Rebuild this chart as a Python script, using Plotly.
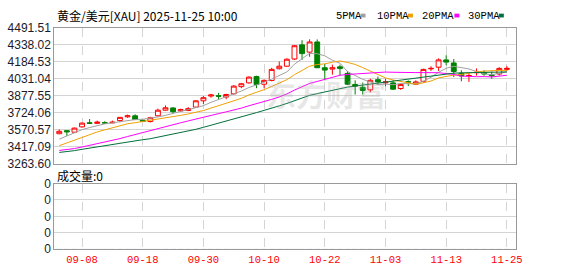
import plotly.graph_objects as go
import pandas as pd

# ---------------- data ----------------
dates = [d.strftime("%m-%d") for d in pd.bdate_range("2025-09-03", "2025-11-25")]
tick_labels = ["09-08", "09-18", "09-30", "10-10", "10-22", "11-03", "11-13", "11-25"]

opens = [3534, 3562, 3548, 3596, 3633, 3628, 3634, 3632, 3653, 3687,
         3696, 3656, 3645, 3696, 3747, 3767, 3741, 3744, 3775, 3832,
         3875, 3877, 3866, 3895, 3960, 3994, 4051, 3982, 4016, 4122,
         4145, 4210, 4338, 4272, 4364, 4131, 4119, 4139, 4080, 3980,
         3954, 3931, 4023, 3994, 3994, 3943, 4004, 3982, 4008, 4121,
         4136, 4202, 4174, 4080, 4058, 4086, 4088, 4068, 4074, 4116]
highs = [3573, 3565, 3590, 3636, 3667, 3653, 3647, 3653, 3684, 3707,
         3710, 3660, 3687, 3761, 3790, 3775, 3761, 3775, 3835, 3875,
         3895, 3903, 3895, 3974, 3994, 4054, 4059, 4025, 4131, 4187,
         4216, 4336, 4380, 4388, 4387, 4165, 4159, 4159, 4102, 4017,
         3997, 4031, 4051, 4031, 4017, 3988, 4017, 4017, 4122, 4145,
         4216, 4244, 4210, 4108, 4080, 4125, 4108, 4097, 4136, 4145]
lows = [3530, 3513, 3542, 3590, 3626, 3622, 3624, 3630, 3639, 3679,
        3660, 3641, 3636, 3690, 3741, 3718, 3733, 3739, 3767, 3803,
        3860, 3846, 3846, 3889, 3946, 3988, 3946, 3946, 4008, 4116,
        4139, 4202, 4202, 4230, 4129, 4017, 4068, 4059, 3974, 3889,
        3889, 3909, 3974, 3963, 3929, 3931, 3965, 3974, 3997, 4102,
        4102, 4153, 4046, 4008, 4003, 4059, 4059, 4031, 4059, 4102]
closes = [3556, 3551, 3585, 3630, 3628, 3639, 3631, 3638, 3682, 3696,
          3662, 3645, 3679, 3747, 3769, 3733, 3752, 3761, 3832, 3860,
          3884, 3874, 3889, 3965, 3986, 4046, 3980, 4017, 4116, 4145,
          4208, 4330, 4259, 4364, 4131, 4110, 4131, 4125, 3982, 3965,
          3926, 4017, 4003, 4003, 3937, 3980, 4002, 4003, 4116, 4125,
          4202, 4182, 4097, 4057, 4061, 4089, 4074, 4059, 4125, 4125]

ma5 = [3485, 3512, 3539, 3571, 3590, 3607, 3623, 3633, 3644, 3657,
       3662, 3665, 3673, 3686, 3700, 3715, 3736, 3752, 3769, 3788,
       3818, 3842, 3868, 3894, 3920, 3952, 3973, 3999, 4029, 4061,
       4093, 4163, 4212, 4261, 4258, 4239, 4199, 4172, 4096, 4063,
       4026, 4003, 3979, 3983, 3977, 3988, 3985, 3985, 4008, 4045,
       4090, 4126, 4144, 4133, 4120, 4097, 4076, 4068, 4082, 4094]
ma10 = [3426, 3452, 3476, 3502, 3527, 3550, 3569, 3587, 3606, 3624,
        3634, 3644, 3653, 3665, 3679, 3688, 3700, 3713, 3728, 3744,
        3766, 3789, 3810, 3832, 3854, 3885, 3908, 3933, 3962, 3990,
        4023, 4068, 4105, 4145, 4160, 4166, 4181, 4192, 4179, 4161,
        4132, 4101, 4075, 4039, 4020, 4007, 3994, 3982, 3995, 4011,
        4039, 4055, 4065, 4070, 4083, 4093, 4101, 4106, 4107, 4107]
ma20 = [3383, 3391, 3400, 3414, 3428, 3442, 3457, 3472, 3490, 3509,
        3526, 3542, 3558, 3578, 3597, 3615, 3633, 3650, 3668, 3684,
        3700, 3716, 3732, 3748, 3766, 3787, 3804, 3823, 3845, 3867,
        3894, 3929, 3958, 3989, 4007, 4026, 4044, 4063, 4070, 4075,
        4078, 4085, 4090, 4092, 4090, 4087, 4088, 4087, 4087, 4086,
        4086, 4078, 4070, 4055, 4051, 4050, 4051, 4048, 4055, 4063]
ma30 = [3365, 3372, 3381, 3393, 3404, 3417, 3430, 3440, 3451, 3462,
        3471, 3480, 3489, 3503, 3517, 3529, 3543, 3557, 3574, 3592,
        3610, 3628, 3645, 3665, 3685, 3706, 3725, 3744, 3766, 3786,
        3808, 3834, 3856, 3881, 3897, 3913, 3930, 3946, 3956, 3965,
        3974, 3986, 3997, 4005, 4011, 4019, 4028, 4036, 4045, 4054,
        4065, 4075, 4082, 4085, 4087, 4089, 4092, 4093, 4094, 4093]
volume = [0] * 60

price_ticks = [3263.60, 3417.09, 3570.57, 3724.06, 3877.55, 4031.04, 4184.53, 4338.02, 4491.51]
vol_ticks = [0, 1, 2, 3, 4]
vol_tick_text = ["0", "0", "0", "0", "0"]

# ---------------- figure ----------------
W, H = 578, 276
def px(v):
    return v / W
def py(v):
    return 1 - v / H

x = list(range(len(dates)))
tick_idx = [dates.index(t) for t in tick_labels]

fig = go.Figure()
fig.add_trace(go.Candlestick(
    x=x, open=opens, high=highs, low=lows, close=closes,
    increasing=dict(line=dict(color="#ff0000", width=1), fillcolor="#ffffff"),
    decreasing=dict(line=dict(color="#008000", width=1), fillcolor="#008000"),
    whiskerwidth=0, showlegend=False, hoverinfo="skip", xaxis="x", yaxis="y"))

ma_colors = ["#a0a0a0", "#f0a000", "#ff00ff", "#00703c"]
for ser, col in zip([ma5, ma10, ma20, ma30], ma_colors):
    fig.add_trace(go.Scatter(x=x, y=ser, mode="lines", line=dict(color=col, width=1),
                             showlegend=False, hoverinfo="skip", xaxis="x", yaxis="y"))

fig.add_trace(go.Bar(x=x, y=volume, marker_color="#ff0000", showlegend=False,
                     hoverinfo="skip", xaxis="x2", yaxis="y2"))

xr = [-0.65, 60.16]
grid = "#d4d4d4"
frame = "#999999"
mono = "Liberation Mono, DejaVu Sans Mono, monospace"
cjk = "Noto Sans CJK SC, sans-serif"

fig.update_layout(
    width=W, height=H, margin=dict(l=0, r=0, t=0, b=0),
    paper_bgcolor="white", plot_bgcolor="white",
    boxgap=0.2, boxgroupgap=0.2,
    xaxis=dict(domain=[px(55), px(522)], range=xr, anchor="y",
               tickvals=tick_idx, showticklabels=False, ticks="",
               showgrid=True, gridcolor=grid, griddash="dash", gridwidth=1,
               showline=True, mirror=True, linecolor=frame, linewidth=1,
               zeroline=False, rangeslider=dict(visible=False), fixedrange=True),
    yaxis=dict(domain=[py(165), py(22)], range=[3263.59, 4491.52], anchor="x",
               tickvals=price_ticks, ticktext=[f"{v:.2f}" for v in price_ticks],
               tickfont=dict(family="Liberation Sans, Arial", size=12, color="#1a1a2a"),
               showgrid=True, gridcolor=grid, gridwidth=1, ticks="",
               showline=True, mirror=True, linecolor=frame, linewidth=1,
               zeroline=False, fixedrange=True),
    xaxis2=dict(domain=[px(55), px(522)], range=xr, anchor="y2",
                tickvals=tick_idx, ticktext=tick_labels, ticks="",
                tickfont=dict(family=mono, size=10.5, color="#ff0000"),
                showgrid=True, gridcolor=grid, griddash="dash", gridwidth=1,
                showline=True, mirror=True, linecolor=frame, linewidth=1,
                zeroline=False, fixedrange=True),
    yaxis2=dict(domain=[py(255), py(186)], range=[0, 4], anchor="x2",
                tickvals=vol_ticks, ticktext=vol_tick_text, ticks="",
                tickfont=dict(family="Liberation Sans, Arial", size=12, color="#1a1a2a"),
                showgrid=True, gridcolor=grid, gridwidth=1,
                showline=True, mirror=True, linecolor=frame, linewidth=1,
                zeroline=False, fixedrange=True),
)

annotations = [
    dict(text="黄金/美元[XAU] 2025-11-25 10:00", x=px(56), y=py(9), xanchor="left", yanchor="middle",
         font=dict(family=cjk, size=12, color="#000000")),
    dict(text="成交量:0", x=px(56), y=py(177), xanchor="left", yanchor="middle",
         font=dict(family=cjk, size=12, color="#000000")),
    dict(text="<b>东方财富</b>", x=px(330), y=py(91), xanchor="center", yanchor="middle",
         font=dict(family=cjk, size=30, color="rgba(170,170,170,0.28)")),
]
legend_items = [("5PMA", 338, 365, ma_colors[0]), ("10PMA", 380, 413, ma_colors[1]),
                ("20PMA", 425, 460, ma_colors[2]), ("30PMA", 472, 505, ma_colors[3])]
shapes = []
for name, tx, sx, col in legend_items:
    annotations.append(dict(text=name, x=px(tx), y=py(9), xanchor="left", yanchor="middle",
                            font=dict(family=mono, size=10.5, color="#000000")))
    shapes.append(dict(type="rect", xref="paper", yref="paper", x0=px(sx), x1=px(sx + 5),
                       y0=py(11), y1=py(7), fillcolor=col, line=dict(width=0)))
for a in annotations:
    a.update(xref="paper", yref="paper", showarrow=False)
fig.update_layout(annotations=annotations, shapes=shapes)

fig.write_html("out.html")
